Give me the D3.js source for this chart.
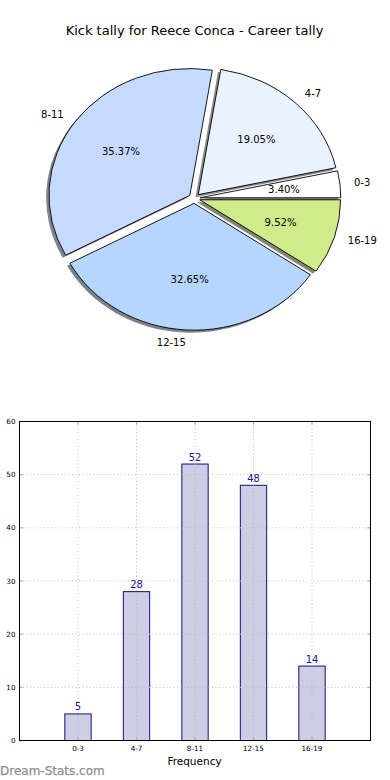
<!DOCTYPE html>
<html><head><meta charset="utf-8">
<script src="https://cdn.jsdelivr.net/npm/d3@7"></script>
<style>
html,body{margin:0;padding:0;background:#fff;}
svg{display:block;font-family:"DejaVu Sans",sans-serif;}
</style></head>
<body>
<svg id="c" width="390" height="780"></svg>
<script>
const title = "Kick tally for Reece Conca - Career tally";
const categories = ["0-3","4-7","8-11","12-15","16-19"];
const values = [5,28,52,48,14];
const pieColors = ["#ffffff","#ebf2ff","#c6d9fe","#b5d6fe","#d0eb8a"];
const yTicks = [0,10,20,30,40,50,60];
const xLabel = "Frequency";
const watermark = "Dream-Stats.com";

const svg = d3.select("#c");
const total = d3.sum(values);

// title
svg.append("text").attr("x",194.5).attr("y",30).attr("text-anchor","middle")
  .attr("dominant-baseline","central").attr("font-size",13).attr("fill","#000").text(title);

// ---- pie (elliptical, matplotlib style) ----
const cx = 194.4, cy = 198.3, rx = 140.8, ry = 126.8, ex = 0.04;
const pie = d3.pie().sort(null).startAngle(Math.PI/2).endAngle(Math.PI/2 - 2*Math.PI);
const arcs = pie(values);
const arc = d3.arc().innerRadius(0).outerRadius(1);
const pieG = svg.append("g");
function offs(a, k){ const m=(a.startAngle+a.endAngle)/2; return [k*rx*Math.sin(m), -k*ry*Math.cos(m)]; }
// shadows
arcs.forEach((a,i)=>{
  const [dx,dy]=offs(a,ex);
  const c=d3.rgb(pieColors[i]);
  pieG.append("path").attr("d",arc(a))
    .attr("transform",`translate(${cx+dx-0.02*rx},${cy+dy+0.02*ry}) scale(${rx},${ry})`)
    .attr("fill",d3.rgb(c.r*0.3,c.g*0.3,c.b*0.3)).attr("fill-opacity",0.65);
});
arcs.forEach((a,i)=>{
  const [dx,dy]=offs(a,ex);
  pieG.append("path").attr("d",arc(a))
    .attr("transform",`translate(${cx+dx},${cy+dy}) scale(${rx},${ry})`)
    .attr("fill",pieColors[i]).attr("stroke","#000").attr("stroke-width",0.9)
    .attr("vector-effect","non-scaling-stroke");
});
arcs.forEach((a,i)=>{
  const m=(a.startAngle+a.endAngle)/2;
  const [lx,ly]=offs(a,ex+1.1);
  pieG.append("text").attr("x",cx+lx).attr("y",cy+ly)
    .attr("text-anchor",Math.sin(m)<0?"end":"start").attr("dominant-baseline","central")
    .attr("font-size",10).text(categories[i]);
  const [px,py]=offs(a,ex+0.6);
  pieG.append("text").attr("x",cx+px).attr("y",cy+py)
    .attr("text-anchor","middle").attr("dominant-baseline","central")
    .attr("font-size",10).text((values[i]/total*100).toFixed(2)+"%");
});

// ---- bar chart ----
const L=19.5, R=370.5, T=421.5, B=740.5;
const x = d3.scaleLinear().domain([-1,categories.length]).range([L,R]);
const y = d3.scaleLinear().domain([0,60]).range([B,T]);
const bw = 0.45;
const bg = svg.append("g");
bg.selectAll("rect.bar").data(values).join("rect").attr("class","bar")
  .attr("x",(d,i)=>x(i-bw/2)).attr("width",x(bw)-x(0))
  .attr("y",d=>y(d)).attr("height",d=>y(0)-y(d))
  .attr("fill","#cdcde3").attr("stroke","#10107f").attr("stroke-width",1);
// grid
const grid = bg.append("g").attr("stroke","#bdbdbd").attr("stroke-width",1).attr("stroke-dasharray","1,2.5");
categories.forEach((c,i)=>grid.append("line").attr("x1",x(i)).attr("x2",x(i)).attr("y1",T).attr("y2",B));
yTicks.slice(1,-1).forEach(t=>grid.append("line").attr("x1",L).attr("x2",R).attr("y1",y(t)).attr("y2",y(t)));
// ticks inward
const tk = bg.append("g").attr("stroke","#aaa").attr("stroke-width",1.2);
categories.forEach((c,i)=>{
  tk.append("line").attr("x1",x(i)).attr("x2",x(i)).attr("y1",T).attr("y2",T+3);
  tk.append("line").attr("x1",x(i)).attr("x2",x(i)).attr("y1",B).attr("y2",B-3);
});
yTicks.forEach(t=>{
  tk.append("line").attr("x1",L).attr("x2",L+3).attr("y1",y(t)).attr("y2",y(t));
  tk.append("line").attr("x1",R).attr("x2",R-3).attr("y1",y(t)).attr("y2",y(t));
});
// frame
bg.append("rect").attr("x",L).attr("y",T).attr("width",R-L).attr("height",B-T)
  .attr("fill","none").attr("stroke","#000").attr("stroke-width",1);
// y labels
yTicks.forEach(t=>bg.append("text").attr("x",15.5).attr("y",y(t)).attr("text-anchor","end")
  .attr("dominant-baseline","central").attr("font-size",7.2).text(t));
// x labels
categories.forEach((c,i)=>bg.append("text").attr("x",x(i)).attr("y",748).attr("text-anchor","middle")
  .attr("dominant-baseline","central").attr("font-size",7.2).text(c));
// value labels
values.forEach((v,i)=>bg.append("text").attr("x",x(i)).attr("y",y(v)-3.5).attr("text-anchor","middle")
  .attr("font-size",10).attr("fill","#1a1a8c").text(v));
bg.append("text").attr("x",194.5).attr("y",760.5).attr("text-anchor","middle")
  .attr("dominant-baseline","central").attr("font-size",10.5).text(xLabel);
// watermark
svg.append("text").attr("x",0).attr("y",771).attr("dominant-baseline","central")
  .attr("font-size",12).attr("fill","#8f8f8f").attr("stroke","#8f8f8f").attr("stroke-width",0.25).text(watermark);
</script>
</body></html>
